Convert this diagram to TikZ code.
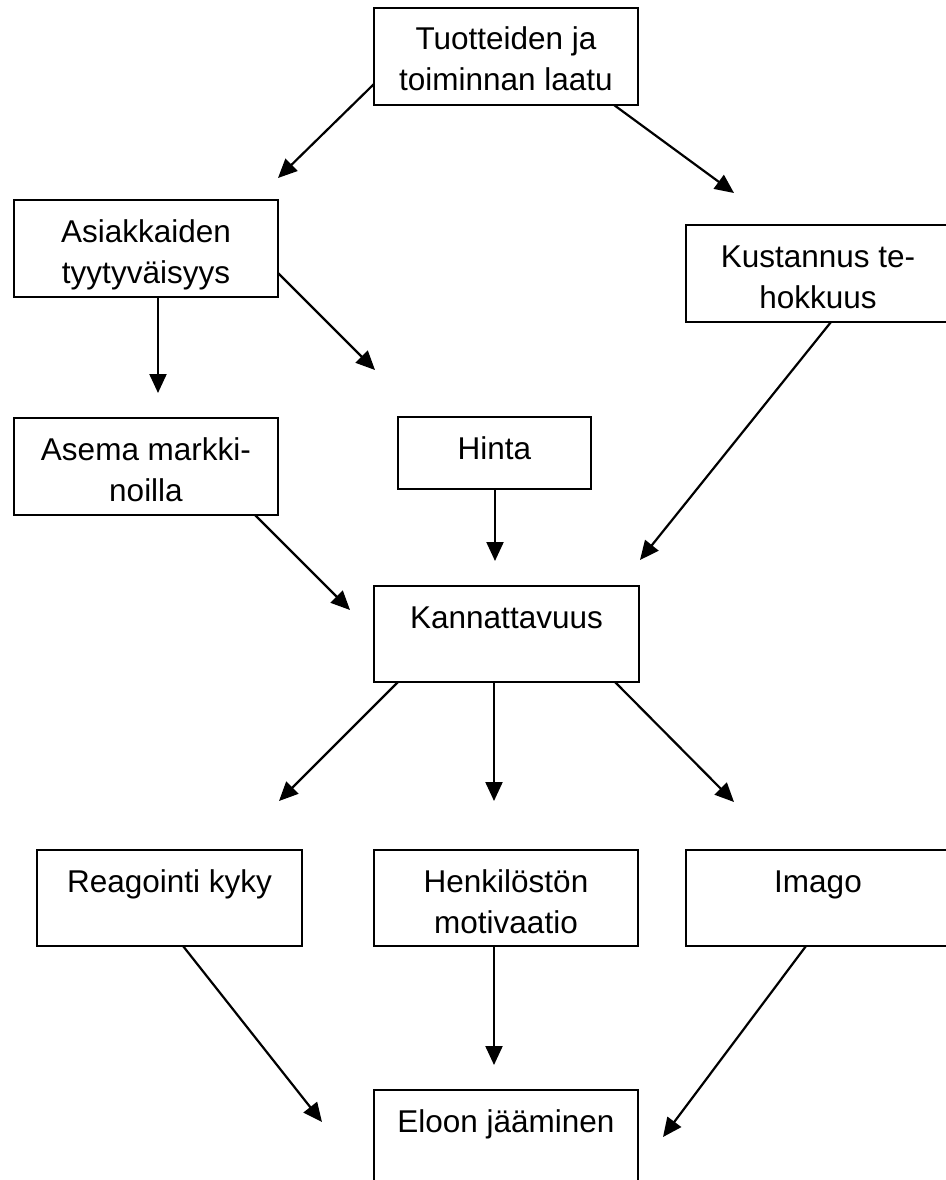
\documentclass[tikz,border=0pt]{standalone}
\usepackage{fontspec}
\setmainfont{Liberation Sans}
\usetikzlibrary{arrows.meta}
\newcommand{\bxt}[3]{\parbox[t][#2][t]{#1}{\centering\fontsize{31.5pt}{41pt}\selectfont\rule{0pt}{42pt}#3}}
\begin{document}
\begin{tikzpicture}[x=1pt,y=-1pt,
  box/.style={draw, line width=2pt, inner sep=0pt, outer sep=0pt, anchor=north west},
  arr/.style={line width=2.2pt, -{Triangle[length=19pt,width=17pt]}}]
\fill[white] (0,0) rectangle (945,1180);
\useasboundingbox (0,0) rectangle (945,1180);
% boxes
\node[box] (T) at (374,8) {\bxt{264pt}{97pt}{Tuotteiden ja\\toiminnan laatu}};
\node[box] (A) at (14,200) {\bxt{264pt}{97pt}{Asiakkaiden\\tyytyväisyys}};
\node[box] (K) at (686,225) {\bxt{264pt}{97pt}{Kustannus te-\\hokkuus}};
\node[box] (AM) at (14,418) {\bxt{264pt}{97pt}{Asema markki-\\noilla}};
\node[box] (H) at (398,417) {\bxt{193pt}{72pt}{Hinta}};
\node[box] (Kan) at (374,586) {\bxt{265pt}{96pt}{Kannattavuus}};
\node[box] (R) at (37,850) {\bxt{265pt}{96pt}{Reagointi kyky}};
\node[box] (He) at (374,850) {\bxt{264pt}{96pt}{Henkilöstön\\motivaatio}};
\node[box] (I) at (686,850) {\bxt{264pt}{96pt}{Imago}};
\node[box] (E) at (374,1090) {\bxt{264pt}{130pt}{Eloon jääminen}};
% arrow tips
\coordinate (ta) at (278,178);
\coordinate (tk) at (734,193);
\coordinate (tam) at (158,393);
\coordinate (th) at (375,370);
\coordinate (tkk) at (640,560);
\coordinate (tamk) at (350,610);
\coordinate (thk) at (495,561);
\coordinate (tr) at (279,801);
\coordinate (the) at (494,801);
\coordinate (ti) at (734,802);
\coordinate (tre) at (322,1122);
\coordinate (thee) at (494,1065);
\coordinate (tie) at (663,1137);
% connectors
\draw[arr] ([yshift=21pt]T.south west) -- (ta);
\draw[arr] ([xshift=-24pt]T.south east) -- (tk);
\draw[arr] ([xshift=12pt]A.south) coordinate (s1) -- (s1 |- tam);
\draw[arr] ([yshift=24pt]A.south east) -- (th);
\draw[arr] ([xshift=145pt]K.south west) -- (tkk);
\draw[arr] ([xshift=-23pt]AM.south east) -- (tamk);
\draw[arr] ([xshift=97pt]H.south west) coordinate (s2) -- (s2 |- thk);
\draw[arr] ([xshift=24pt]Kan.south west) -- (tr);
\draw[arr] ([xshift=120pt]Kan.south west) coordinate (s3) -- (s3 |- the);
\draw[arr] ([xshift=241pt]Kan.south west) -- (ti);
\draw[arr] ([xshift=146pt]R.south west) -- (tre);
\draw[arr] ([xshift=120pt]He.south west) coordinate (s4) -- (s4 |- thee);
\draw[arr] ([xshift=120pt]I.south west) -- (tie);
\end{tikzpicture}
\end{document}
